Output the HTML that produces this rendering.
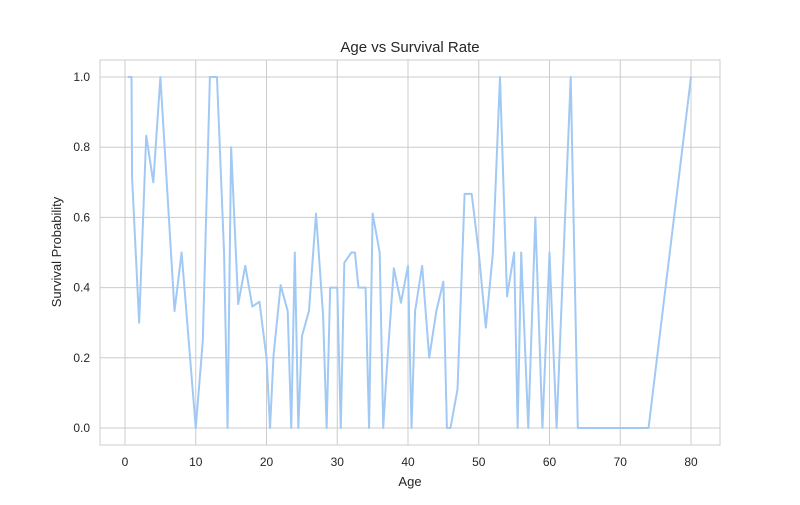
<!DOCTYPE html>
<html><head><meta charset="utf-8"><style>
body{margin:0;background:#fff;font-family:"Liberation Sans",sans-serif}
</style></head><body>
<svg id="chart" width="800" height="500" xmlns="http://www.w3.org/2000/svg" font-family="Liberation Sans, sans-serif"></svg>
<script>
const ages=[0.42,0.67,0.75,0.83,0.92,1,2,3,4,5,6,7,8,9,10,11,12,13,14,14.5,15,16,17,18,19,20,20.5,21,22,23,23.5,24,24.5,25,26,27,28,28.5,29,30,30.5,31,32,32.5,33,34,34.5,35,36,36.5,37,38,39,40,40.5,41,42,43,44,45,45.5,46,47,48,49,50,51,52,53,54,55,55.5,56,57,58,59,60,61,62,63,64,65,66,70,70.5,71,74,80];
const survival=[1,1,1,1,1,0.714,0.3,0.833,0.7,1,0.667,0.333,0.5,0.25,0,0.25,1,1,0.5,0,0.8,0.353,0.462,0.346,0.36,0.2,0,0.208,0.407,0.333,0,0.5,0,0.261,0.333,0.611,0.32,0,0.4,0.4,0,0.471,0.5,0.5,0.4,0.4,0,0.611,0.5,0,0.167,0.455,0.357,0.462,0,0.333,0.462,0.2,0.333,0.417,0,0,0.111,0.667,0.667,0.5,0.286,0.5,1,0.375,0.5,0,0.5,0,0.6,0,0.5,0,0.5,1,0,0,0,0,0,0,0,1];
const xTicks=[0,10,20,30,40,50,60,70,80];
const yTicks=[0,0.2,0.4,0.6,0.8,1.0];
const L=100,R=720,T=60,B=445;
const xs=v=>125+v*(691-125)/80;
const ys=v=>428-v*(428-77);
const svg=document.getElementById('chart');
const NS='http://www.w3.org/2000/svg';
function mk(tag,attrs){const e=document.createElementNS(NS,tag);for(const k in attrs)e.setAttribute(k,attrs[k]);svg.appendChild(e);return e;}
xTicks.forEach(t=>{
  const g=mk('line',{x1:xs(t),x2:xs(t),y1:T,y2:B,stroke:'#cccccc','stroke-width':1});
  
  
  const tx=mk('text',{x:xs(t),y:B+21,'text-anchor':'middle','font-size':12,fill:'#262626'});
  tx.textContent=t;
  
  
});
yTicks.forEach(t=>{
  const g=mk('line',{x1:L,x2:R,y1:ys(t),y2:ys(t),stroke:'#cccccc','stroke-width':1});
  
  
  const tx=mk('text',{x:L-10,y:ys(t)+4,'text-anchor':'end','font-size':12,fill:'#262626'});
  tx.textContent=t.toFixed(1);
  
  
});
const frame=mk('rect',{x:L,y:T,width:R-L,height:B-T,fill:'none',stroke:'#cccccc','stroke-width':1});


const pts=ages.map((a,i)=>xs(a)+','+ys(survival[i])).join(' ');
const line=mk('polyline',{points:pts,fill:'none',stroke:'#a1c9f4','stroke-width':2,'stroke-linejoin':'round'});


const title=mk('text',{x:410,y:52,'text-anchor':'middle','font-size':15,fill:'#262626'});
title.textContent='Age vs Survival Rate';


const xl=mk('text',{x:410,y:486,'text-anchor':'middle','font-size':13,fill:'#262626'});
xl.textContent='Age';


const yl=mk('text',{x:61,y:252,'text-anchor':'middle','font-size':13,fill:'#262626',transform:'rotate(-90 61 252)'});
yl.textContent='Survival Probability';


</script>
</body></html>
